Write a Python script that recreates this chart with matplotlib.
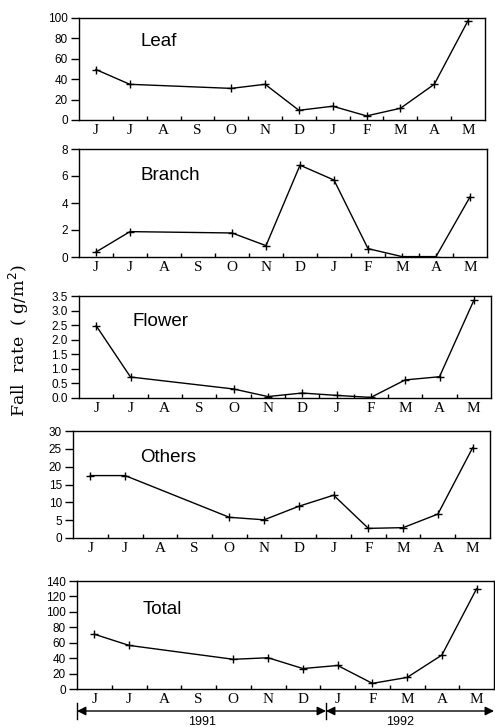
import matplotlib
matplotlib.use("Agg")
import matplotlib.pyplot as plt
import numpy as np

months = ["J", "J", "A", "S", "O", "N", "D", "J", "F", "M", "A", "M"]
obs_idx = [0, 1, 4, 5, 6, 7, 8, 9, 10, 11]  # months with samples

leaf = [49.5, 35, 31, 35, 9.5, 13.5, 4, 11.5, 35, 97.5]
branch = [0.37, 1.88, 1.78, 0.84, 6.8, 5.7, 0.62, 0.03, 0.03, 4.45]
flower = [2.48, 0.72, 0.31, 0.05, 0.17, 0.09, 0.02, 0.62, 0.73, 3.35]
others = [17.5, 17.5, 5.8, 5.1, 8.9, 12.0, 2.7, 2.9, 6.7, 25.3]
total = [71, 56.5, 38.5, 40.5, 26.5, 30.5, 7.3, 15, 44, 130]

panels = [
    ("Leaf", leaf, 100, 20, "{:.0f}"),
    ("Branch", branch, 8, 2, "{:.0f}"),
    ("Flower", flower, 3.5, 0.5, "{:.1f}"),
    ("Others", others, 30, 5, "{:.0f}"),
    ("Total", total, 140, 20, "{:.0f}"),
]
years = ["1991", "1992"]

W, H = 495, 727
# pixel boxes: left, right, top, bottom
boxes = [
    (79, 485, 18, 120),
    (79, 487, 149, 257),
    (79, 491, 296, 398),
    (73, 490, 431, 538),
    (77, 494, 581, 689),
]
label_pos = [(140, 42), (141, 176), (133, 322), (140, 457), (143, 609)]

fig = plt.figure(figsize=(W / 100, H / 100), dpi=100)
serif = ["Liberation Serif", "DejaVu Serif"]
sans = ["Liberation Sans", "DejaVu Sans"]

xs = np.array(obs_idx) + 0.5
for (name, vals, ymax, step, fmt), (l, r, t, b), (lx, ly) in zip(panels, boxes, label_pos):
    ax = fig.add_axes([l / W, (H - b) / H, (r - l) / W, (b - t) / H])
    ax.plot(xs, vals, color="black", lw=1.0, marker="+", ms=6, mew=1.0)
    ax.set_xlim(0, 12)
    ax.set_ylim(0, ymax)
    yt = np.arange(0, ymax + step / 2, step)
    ax.set_yticks(yt)
    ax.set_yticklabels([fmt.format(v) for v in yt], fontfamily=sans, fontsize=8.5)
    ax.tick_params(axis="y", direction="out", length=6, width=1, pad=2)
    ax.set_xticks(np.arange(12) + 0.5)
    ax.set_xticklabels(months, fontfamily=serif, fontsize=11)
    ax.tick_params(axis="x", which="major", length=0, pad=3)
    ax.set_xticks(np.arange(1, 12), minor=True)
    ax.tick_params(axis="x", which="minor", direction="in", length=3, width=1)
    for s in ax.spines.values():
        s.set_linewidth(1.0)
    fig.text(lx / W, 1 - ly / H, name, fontfamily=sans, fontsize=13.5,
             ha="left", va="center")

# year arrows below Total panel
ay = 1 - 711 / H
x0, xm, x1 = 77 / W, 326 / W, 494 / W
arr = dict(arrowstyle="<|-|>", color="black", lw=1.0, mutation_scale=13,
           shrinkA=0, shrinkB=0)
fig.add_artist(matplotlib.patches.FancyArrowPatch((x0, ay), (xm, ay),
               transform=fig.transFigure, **arr))
fig.add_artist(matplotlib.patches.FancyArrowPatch((xm, ay), (x1, ay),
               transform=fig.transFigure, **arr))
for xv in (x0, xm):
    fig.add_artist(matplotlib.lines.Line2D([xv, xv], [ay - 8 / H, ay + 8 / H],
                   transform=fig.transFigure, color="black", lw=1.0))
fig.text(202 / W, 1 - 722 / H, years[0], fontfamily=sans, fontsize=9,
         ha="center", va="center")
fig.text(400 / W, 1 - 722 / H, years[1], fontfamily=sans, fontsize=9,
         ha="center", va="center")

fig.text(19 / W, 1 - 340 / H, "Fall  rate  ( g/m$^2$)", rotation=90,
         fontfamily=["DejaVu Serif"], fontsize=12.5,
         ha="center", va="center")

fig.savefig("out.png", dpi=100)
